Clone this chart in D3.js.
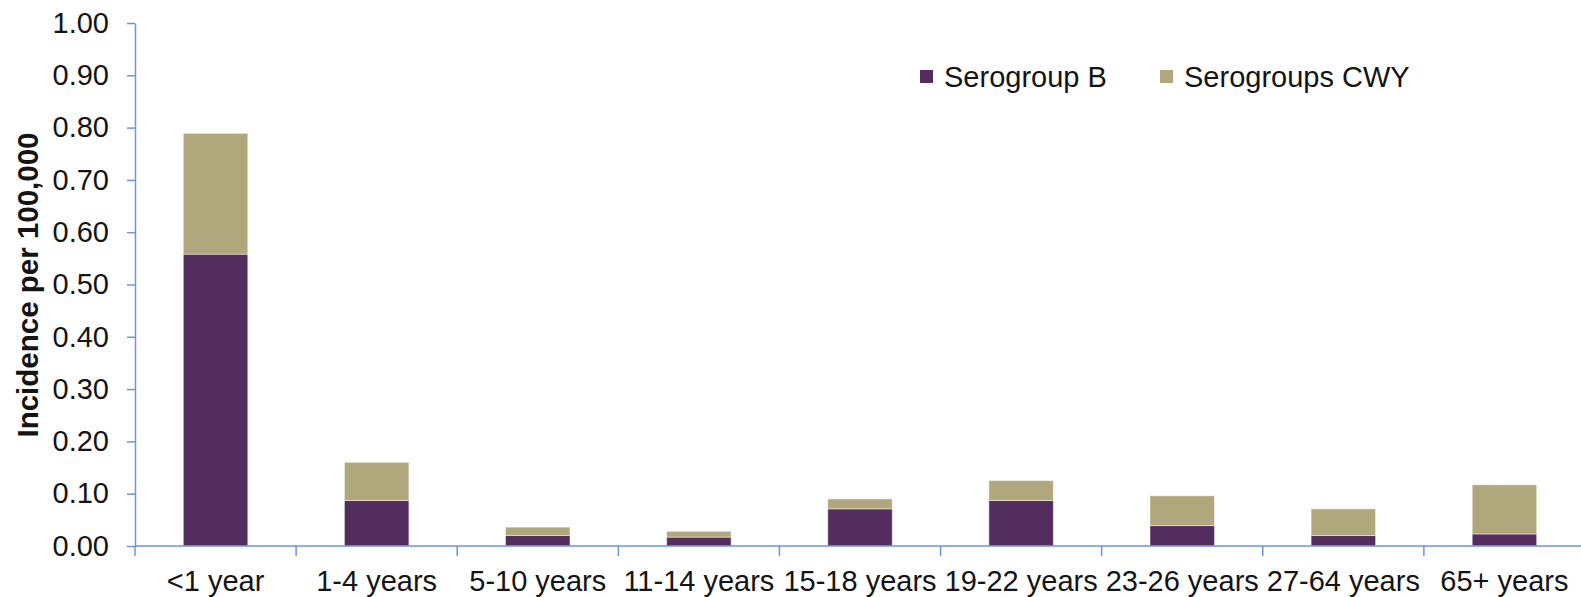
<!DOCTYPE html>
<html>
<head>
<meta charset="utf-8">
<script src="https://cdn.jsdelivr.net/npm/d3@7"></script>
<style>
  body { margin: 0; background: #fff; }
  svg { display: block; font-family: "Liberation Sans", Arial, sans-serif; }
</style>
</head>
<body>
<div id="chart"></div>
<script>
const ageGroups = ["<1 year", "1-4 years", "5-10 years", "11-14 years", "15-18 years",
                   "19-22 years", "23-26 years", "27-64 years", "65+ years"];
const serogroupB = [0.558, 0.087, 0.020, 0.017, 0.071, 0.087, 0.039, 0.020, 0.023];
const serogroupsCWY = [0.231, 0.073, 0.016, 0.011, 0.019, 0.038, 0.057, 0.051, 0.094];
const seriesNames = ["Serogroup B", "Serogroups CWY"];
const yTicks = [0, 0.1, 0.2, 0.3, 0.4, 0.5, 0.6, 0.7, 0.8, 0.9, 1.0];

const width = 1581, height = 597;
const margin = { top: 23, right: -4, bottom: 51, left: 135 };
const colors = ["#532d5e", "#b1a77d"];
const axisColor = "#6b95d8";

const svg = d3.select("#chart").append("svg")
    .attr("width", width)
    .attr("height", height);

const xScale = d3.scaleBand()
    .domain(ageGroups)
    .range([margin.left, width - margin.right])
    .paddingInner(0.6)
    .paddingOuter(0.3);

const yScale = d3.scaleLinear()
    .domain([0, 1])
    .range([height - margin.bottom, margin.top]);

// stacked data
const rows = ageGroups.map((g, i) => ({ group: g, B: serogroupB[i], CWY: serogroupsCWY[i] }));
const stack = d3.stack().keys(["B", "CWY"])(rows);

svg.append("g")
  .selectAll("g")
  .data(stack)
  .join("g")
    .attr("fill", (d, i) => colors[i])
  .selectAll("rect")
  .data(d => d)
  .join("rect")
    .attr("x", d => xScale(d.data.group))
    .attr("width", xScale.bandwidth())
    .attr("y", d => yScale(d[1]))
    .attr("height", d => yScale(d[0]) - yScale(d[1]))
    .attr("stroke", "rgba(255,255,255,0.45)")
    .attr("stroke-width", 1);

// y axis
const yAxis = svg.append("g")
    .attr("transform", `translate(${margin.left},0)`)
    .call(d3.axisLeft(yScale)
      .tickValues(yTicks)
      .tickFormat(d3.format(".2f"))
      .tickSize(8)
      .tickPadding(18)
      .tickSizeOuter(0));
yAxis.select(".domain").attr("stroke", axisColor).attr("stroke-width", 1.5);
yAxis.selectAll(".tick line").attr("stroke", axisColor).attr("stroke-width", 1.5);
yAxis.selectAll(".tick text")
    .attr("fill", "#141414")
    .attr("font-size", 29)
    .attr("font-family", "'Liberation Sans', Arial, sans-serif");

// x axis line and boundary ticks
const x0 = height - margin.bottom;
const xAxis = svg.append("g");
xAxis.append("line")
    .attr("x1", margin.left).attr("x2", width)
    .attr("y1", x0).attr("y2", x0)
    .attr("stroke", axisColor).attr("stroke-width", 1.5);

const boundaries = ageGroups.map(g => xScale(g) - xScale.step() * xScale.paddingOuter());
xAxis.selectAll("line.tk")
  .data(boundaries)
  .join("line")
    .attr("class", "tk")
    .attr("x1", d => d).attr("x2", d => d)
    .attr("y1", x0).attr("y2", x0 + 10)
    .attr("stroke", axisColor).attr("stroke-width", 1.5);

xAxis.selectAll("text")
  .data(ageGroups)
  .join("text")
    .attr("x", d => xScale(d) + xScale.bandwidth() / 2)
    .attr("y", 591)
    .attr("text-anchor", "middle")
    .attr("font-size", 29)
    .attr("fill", "#141414")
    .text(d => d);

// y title
svg.append("text")
    .attr("transform", `translate(38,285) rotate(-90)`)
    .attr("text-anchor", "middle")
    .attr("font-size", 29.5)
    .attr("font-weight", "bold")
    .attr("fill", "#141414")
    .text("Incidence per 100,000");

// legend
const legendX = [920, 1160];
const legend = svg.append("g")
  .selectAll("g")
  .data(seriesNames)
  .join("g")
    .attr("transform", (d, i) => `translate(${legendX[i]},70)`);
legend.append("rect")
    .attr("width", 13).attr("height", 13)
    .attr("fill", (d, i) => colors[i]);
legend.append("text")
    .attr("x", 24)
    .attr("y", 17)
    .attr("font-size", 29)
    .attr("fill", "#141414")
    .text(d => d);
</script>
</body>
</html>
